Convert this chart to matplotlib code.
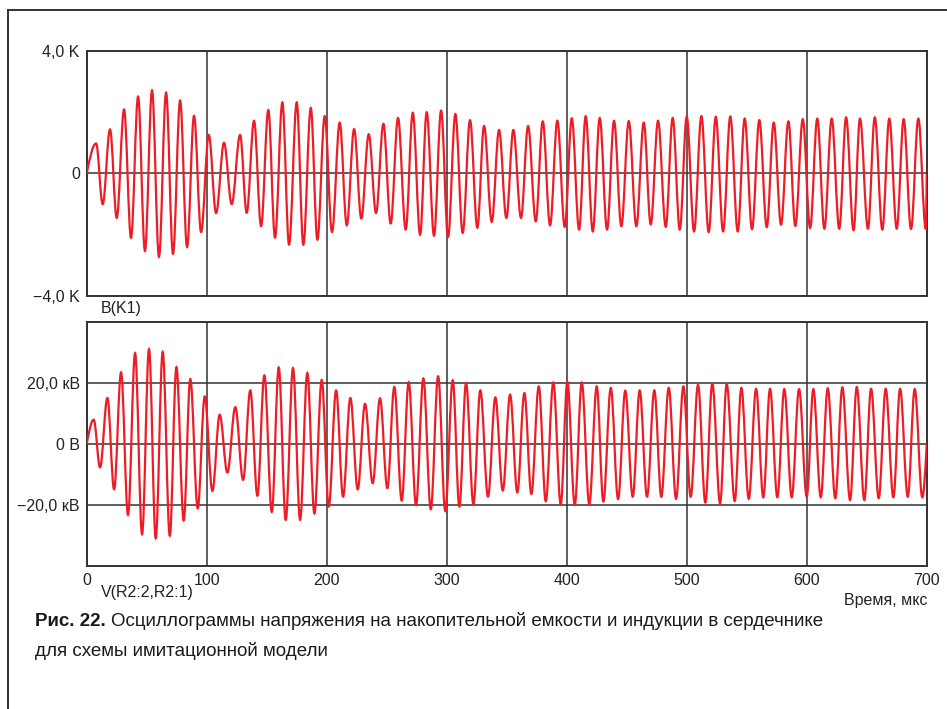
import matplotlib.pyplot as plt
from matplotlib.path import Path
from matplotlib.patches import PathPatch
from matplotlib.lines import Line2D

# B(K1), K — extrema of the upper oscillogram (time in us)
top_peak_t = [7.8, 19.4, 31.1, 42.8, 54.4, 66.1, 77.8, 89.4, 101.7, 114.4,
              127.8, 139.4, 151.3, 163.0, 175.0, 186.7, 198.3, 210.8, 222.8, 235.0,
              247.2, 259.4, 271.7, 283.3, 295.3, 307.2, 319.4, 331.1, 343.6, 355.5,
              367.8, 380.0, 392.2, 404.2, 415.8, 427.5, 439.4, 451.7, 464.2, 476.1,
              488.3, 500.0, 512.2, 524.2, 536.3, 548.3, 560.5, 572.5, 584.7, 596.7,
              608.8, 620.8, 632.8, 644.4, 656.7, 668.8, 680.8, 693.0]
top_peak_v = [0.98, 1.44, 2.09, 2.51, 2.71, 2.64, 2.38, 1.88, 1.26, 1.00,
              1.26, 1.72, 2.07, 2.32, 2.32, 2.14, 1.87, 1.66, 1.45, 1.28,
              1.62, 1.81, 1.98, 2.00, 2.05, 1.94, 1.74, 1.55, 1.42, 1.42,
              1.55, 1.70, 1.72, 1.80, 1.87, 1.81, 1.72, 1.71, 1.66, 1.72,
              1.81, 1.85, 1.87, 1.85, 1.86, 1.79, 1.74, 1.66, 1.70, 1.77,
              1.79, 1.79, 1.83, 1.79, 1.83, 1.79, 1.77, 1.79]
top_trough_t = [13.3, 25.0, 36.9, 48.5, 60.2, 71.9, 83.6, 95.3, 107.8, 120.8,
                133.3, 145.3, 156.9, 168.6, 180.5, 192.2, 204.4, 216.7, 228.8, 241.1,
                253.3, 265.8, 277.8, 289.4, 301.1, 313.3, 325.5, 337.5, 349.7, 361.9,
                374.2, 386.1, 398.3, 410.3, 421.7, 433.6, 445.5, 458.0, 470.0, 482.5,
                494.2, 506.1, 518.3, 530.3, 542.5, 554.4, 566.7, 578.6, 590.5, 602.8,
                614.7, 627.1, 639.0, 651.0, 663.0, 675.0, 686.9, 699.2]
top_trough_v = [-1.00, -1.45, -2.10, -2.53, -2.72, -2.62, -2.40, -1.91, -1.29, -1.00,
                -1.28, -1.72, -2.09, -2.32, -2.32, -2.16, -1.91, -1.69, -1.47, -1.29,
                -1.63, -1.83, -2.00, -2.03, -2.07, -1.94, -1.77, -1.58, -1.45, -1.45,
                -1.56, -1.69, -1.74, -1.83, -1.89, -1.83, -1.72, -1.72, -1.66, -1.74,
                -1.83, -1.89, -1.91, -1.89, -1.89, -1.82, -1.75, -1.67, -1.71, -1.78,
                -1.80, -1.80, -1.85, -1.80, -1.83, -1.80, -1.81, -1.80]

# V(R2:2,R2:1), kV — extrema of the lower oscillogram
bot_peak_t = [5.8, 17.2, 28.6, 40.3, 51.9, 63.3, 74.7, 86.3, 98.3, 110.8,
              123.8, 136.3, 148.0, 160.0, 171.9, 183.8, 195.8, 207.8, 219.7, 231.9,
              244.4, 256.3, 268.3, 280.5, 292.8, 305.0, 316.1, 328.0, 340.5, 352.8,
              364.7, 376.7, 388.8, 400.5, 412.5, 425.0, 436.7, 448.8, 460.8, 473.0,
              485.0, 497.2, 509.4, 521.3, 533.3, 545.5, 557.8, 569.4, 581.3, 593.6,
              605.5, 617.5, 629.7, 641.7, 653.6, 665.8, 677.8, 690.0]
bot_peak_v = [7.9, 15.0, 23.4, 29.7, 31.0, 30.1, 25.1, 21.2, 15.5, 9.5,
              12.0, 17.5, 22.4, 25.0, 24.8, 23.2, 20.9, 17.5, 15.0, 13.1,
              14.9, 18.6, 20.2, 21.4, 22.1, 20.8, 19.9, 17.5, 15.2, 16.1,
              16.6, 18.8, 20.1, 20.3, 20.1, 18.8, 18.3, 17.4, 17.5, 17.5,
              18.3, 18.8, 19.3, 19.7, 19.6, 18.3, 18.0, 18.0, 17.9, 17.9,
              17.9, 18.2, 18.5, 18.6, 18.0, 18.0, 18.0, 17.9]
bot_trough_t = [11.1, 22.8, 34.4, 46.1, 57.5, 69.2, 80.8, 92.5, 104.7, 117.2,
                130.3, 142.2, 154.2, 165.8, 177.8, 189.7, 201.7, 213.6, 225.8, 238.3,
                250.5, 262.5, 274.4, 286.7, 298.8, 310.5, 322.2, 334.4, 346.7, 358.8,
                370.5, 382.5, 395.0, 406.7, 418.8, 430.5, 442.8, 455.0, 466.9, 478.8,
                491.1, 503.3, 515.5, 527.8, 540.0, 551.7, 563.8, 575.5, 587.5, 600.0,
                611.7, 623.8, 636.1, 648.0, 660.0, 672.2, 684.2, 696.3]
bot_trough_v = [-7.7, -14.9, -23.3, -29.6, -30.9, -30.1, -25.1, -21.1, -15.4, -9.4,
                -11.8, -17.0, -22.3, -24.9, -24.9, -22.8, -20.5, -17.3, -14.9, -12.9,
                -14.5, -18.6, -20.0, -21.4, -22.0, -20.5, -19.7, -17.3, -15.3, -15.9,
                -16.4, -18.8, -19.8, -20.0, -19.8, -18.9, -18.1, -17.3, -17.3, -17.3,
                -18.0, -17.3, -19.2, -19.5, -18.7, -18.0, -17.5, -17.5, -17.5, -17.3,
                -17.5, -17.8, -18.4, -18.4, -17.8, -17.5, -17.3, -17.5]

t_end = 700
x_ticks = [0, 100, 200, 300, 400, 500, 600, 700]
top_yticks = [-4, 0, 4]
top_ylabels = ['\u22124,0 K', '0', '4,0 K']
bot_yticks = [-20, 0, 20]
bot_ylabels = ['\u221220,0 кВ', '0 В', '20,0 кВ']

RED = '#ee1c25'
DARK = '#333333'
plt.rcParams['font.family'] = ['Liberation Sans', 'DejaVu Sans']


def wave_path(peak_t, peak_v, trough_t, trough_v, t1):
    # smooth curve through the extrema, drawn as cubic bezier segments
    pts = [(0.0, 0.0)]
    for a, b, c, d in zip(peak_t, peak_v, trough_t, trough_v):
        pts.append((a, b))
        pts.append((c, d))
    pts.append((t1, 0.0))
    verts = [pts[0]]
    codes = [Path.MOVETO]
    n = len(pts)
    for i in range(1, n):
        x0, y0 = pts[i - 1]
        x1, y1 = pts[i]
        dx = x1 - x0
        if i == 1:
            c1 = (x0 + 0.325 * dx, y0 + 0.511 * (y1 - y0))
            c2 = (x0 + 0.64 * dx, y1)
        elif i == n - 1:
            c1 = (x0 + 0.36 * dx, y0)
            c2 = (x0 + 0.675 * dx, y0 + 0.489 * (y1 - y0))
        else:
            c1 = (x0 + 0.364 * dx, y0)
            c2 = (x1 - 0.364 * dx, y1)
        verts += [c1, c2, (x1, y1)]
        codes += [Path.CURVE4] * 3
    return Path(verts, codes)


fig = plt.figure(figsize=(9.47, 7.09), dpi=100)
ax1 = fig.add_axes([0.0916, 0.5825, 0.887, 0.3456])
ax2 = fig.add_axes([0.0916, 0.2017, 0.887, 0.3446])

for ax in (ax1, ax2):
    ax.set_xlim(0, t_end)
    ax.set_xticks(x_ticks)
    ax.grid(True, color=DARK, lw=1.1)
    ax.set_axisbelow(True)
    ax.tick_params(length=0, labelsize=11.5, colors='#222222', pad=5)
    for s in ax.spines.values():
        s.set_color(DARK)
        s.set_linewidth(1.4)

ax1.set_ylim(-4, 4)
ax1.set_yticks(top_yticks)
ax1.set_yticklabels(top_ylabels)
ax1.set_xticklabels([])
ax1.add_patch(PathPatch(wave_path(top_peak_t, top_peak_v, top_trough_t, top_trough_v, t_end),
                        facecolor='none', edgecolor=RED, lw=1.6, zorder=3))

ax2.set_ylim(-40, 40)
ax2.set_yticks(bot_yticks)
ax2.set_yticklabels(bot_ylabels)
ax2.set_xticklabels([str(v) for v in x_ticks])
ax2.add_patch(PathPatch(wave_path(bot_peak_t, bot_peak_v, bot_trough_t, bot_trough_v, t_end),
                        facecolor='none', edgecolor=RED, lw=1.6, zorder=3))

W, H = 947, 709
fig.text(101 / W, 1 - 308 / H, 'B(K1)', fontsize=11.5, va='center', color='#222222')
fig.text(101 / W, 1 - 592 / H, 'V(R2:2,R2:1)', fontsize=11.5, va='center', color='#222222')
fig.text(927 / W, 1 - 600 / H, 'Время, мкс', fontsize=11.5, va='center', ha='right', color='#222222')

# outer frame (top and left edges only)
fig.add_artist(Line2D([8 / W, 1], [1 - 10 / H, 1 - 10 / H], color=DARK, lw=1.4))
fig.add_artist(Line2D([8 / W, 8 / W], [0, 1 - 10 / H], color=DARK, lw=1.4))

# caption
cap_font = ['Liberation Sans Narrow', 'Liberation Sans', 'DejaVu Sans']
t1 = fig.text(35 / W, 1 - 621 / H, 'Рис. 22.', fontsize=13.5, fontweight='bold',
              family=cap_font, va='center', color='#1a1a1a')
fig.canvas.draw()
bb = t1.get_window_extent()
fig.text(bb.x1 / W + 5 / W, 1 - 621 / H,
         'Осциллограммы напряжения на накопительной емкости и индукции в сердечнике',
         fontsize=13.5, family=cap_font, va='center', color='#1a1a1a')
fig.text(35 / W, 1 - 651 / H, 'для схемы имитационной модели',
         fontsize=13.5, family=cap_font, va='center', color='#1a1a1a')

fig.savefig('out.png', dpi=100)
